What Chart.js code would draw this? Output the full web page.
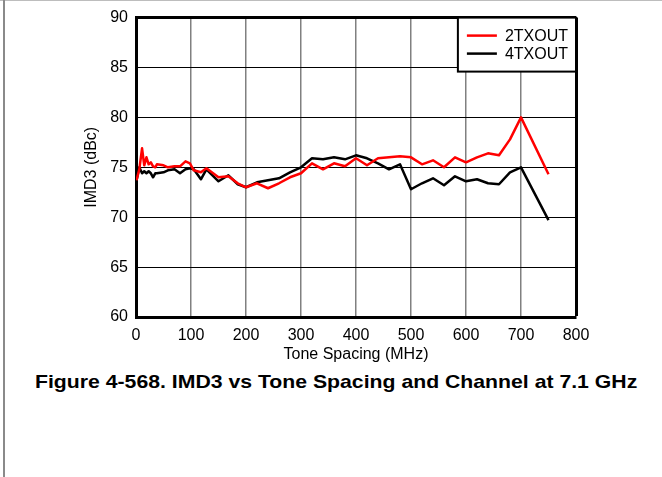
<!DOCTYPE html>
<html>
<head>
<meta charset="utf-8">
<script src="https://cdn.jsdelivr.net/npm/chart.js@4.4.1/dist/chart.umd.min.js"></script>
<style>
  html, body { margin: 0; padding: 0; background: #fff; }
  body { width: 662px; height: 477px; position: relative; overflow: hidden; }
  .frameTop { position: absolute; left: 0; top: 0; width: 662px; height: 1px; background: #bdbdbd; }
  .frameLeft { position: absolute; left: 3px; top: 0; width: 2px; height: 477px; background: #8a8a8a; }
  #wrap { position: absolute; left: 0; top: 0; width: 662px; height: 365px; }
  #caption {
    position: absolute; left: 35px; top: 371px; white-space: nowrap;
    font: bold 19px "Liberation Sans", Arial, sans-serif; color: #000;
    transform: scaleX(1.117); transform-origin: 0 0;
  }
</style>
</head>
<body>
<div class="frameTop"></div>
<div class="frameLeft"></div>
<div id="wrap"><canvas id="imdChart"></canvas></div>
<div id="caption">Figure 4-568. IMD3 vs Tone Spacing and Channel at 7.1 GHz</div>
<script>
// tone spacing in MHz
const toneSpacing = [1, 6, 11, 15, 19, 23, 27, 31, 35, 38, 50, 58, 70, 80, 90, 98, 105, 118, 128, 150,
  168, 185, 200, 220, 240, 260, 280, 300, 320, 340, 360, 380, 400, 420, 440, 460, 480, 500, 520, 540,
  560, 580, 600, 620, 640, 660, 680, 700, 750];

// IMD3 in dBc
const imd2tx = [73.7, 74.8, 76.9, 75.2, 76.0, 75.3, 75.5, 75.1, 75.0, 75.3, 75.2, 75.0, 75.1, 75.1, 75.6, 75.4, 74.7, 74.5, 74.9, 74.0,
  74.1, 73.4, 73.0, 73.4, 72.9, 73.4, 74.0, 74.4, 75.4, 74.8, 75.4, 75.1, 75.9, 75.2, 75.9, 76.0, 76.1, 76.0, 75.3, 75.7,
  75.0, 76.0, 75.5, 76.0, 76.4, 76.2, 77.8, 80.0, 74.3];

const imd4tx = [73.7, 75.0, 74.4, 74.6, 74.4, 74.6, 74.4, 74.0, 74.4, 74.4, 74.5, 74.7, 74.8, 74.4, 74.8, 74.9, 74.8, 73.8, 74.8, 73.6,
  74.2, 73.3, 73.0, 73.5, 73.7, 73.9, 74.5, 75.0, 75.9, 75.8, 76.0, 75.8, 76.2, 75.9, 75.4, 74.8, 75.3, 72.8, 73.4, 73.9,
  73.2, 74.1, 73.6, 73.8, 73.4, 73.3, 74.5, 75.0, 69.7];

const xTicks = [0, 100, 200, 300, 400, 500, 600, 700, 800];
const yTicks = [60, 65, 70, 75, 80, 85, 90];

const FONT = '"Liberation Sans", Arial, sans-serif';

// legend drawn inside the plot, top right, in a framed box
const boxLegend = {
  id: 'boxLegend',
  afterDraw(chart) {
    const { ctx, chartArea } = chart;
    const sets = chart.data.datasets;
    ctx.save();
    ctx.font = '16px ' + FONT;
    let textW = 0;
    sets.forEach(ds => { textW = Math.max(textW, ctx.measureText(ds.label).width); });
    const w = 9 + 30 + 8 + textW + 8;
    const h = 54;
    const left = chartArea.right - w;
    const top = chartArea.top;
    ctx.fillStyle = '#fff';
    ctx.fillRect(left, top, w, h);
    ctx.strokeStyle = '#000';
    ctx.lineWidth = 2;
    ctx.strokeRect(left, top, w, h);
    sets.forEach((ds, i) => {
      const y = top + 18 + i * 18;
      ctx.strokeStyle = ds.borderColor;
      ctx.lineWidth = 2.5;
      ctx.beginPath();
      ctx.moveTo(left + 9, y);
      ctx.lineTo(left + 39, y);
      ctx.stroke();
      ctx.fillStyle = '#000';
      ctx.textBaseline = 'middle';
      ctx.fillText(ds.label, left + 47, y + 1);
    });
    ctx.restore();
  }
};

const imdConfig = {
  type: 'line',
  data: {
    datasets: [
      {
        label: '2TXOUT',
        data: toneSpacing.map((x, i) => ({ x: x, y: imd2tx[i] })),
        borderColor: '#ff0000',
        backgroundColor: '#ff0000',
        borderWidth: 2.5
      },
      {
        label: '4TXOUT',
        data: toneSpacing.map((x, i) => ({ x: x, y: imd4tx[i] })),
        borderColor: '#000000',
        backgroundColor: '#000000',
        borderWidth: 2.5
      }
    ]
  },
  options: {
    responsive: true,
    maintainAspectRatio: false,
    animation: false,
    layout: { padding: { left: 76, top: 17, right: 86, bottom: 0 } },
    elements: { point: { radius: 0 }, line: { tension: 0, borderJoinStyle: 'round' } },
    scales: {
      x: {
        type: 'linear',
        min: 0,
        max: 800,
        afterBuildTicks: scale => { scale.ticks = xTicks.map(v => ({ value: v })); },
        afterFit: scale => { scale.height = 48; },
        ticks: { color: '#000', font: { size: 16, family: FONT }, padding: 9, maxRotation: 0 },
        grid: {
          drawTicks: false,
          color: c => (c.tick && c.tick.value === 800) ? '#000' : '#808080',
          lineWidth: c => (c.tick && c.tick.value === 800) ? 3 : 1.5
        },
        border: { color: '#000', width: 3 },
        title: {
          display: true,
          text: 'Tone Spacing (MHz)',
          color: '#000',
          font: { size: 16, family: FONT },
          padding: { top: 0, bottom: 1 }
        }
      },
      y: {
        min: 60,
        max: 90,
        afterBuildTicks: scale => { scale.ticks = yTicks.map(v => ({ value: v })); },
        afterFit: scale => { scale.width = 60; },
        ticks: { color: '#000', font: { size: 16, family: FONT }, padding: 8 },
        grid: {
          drawTicks: false,
          color: '#000',
          lineWidth: c => (c.tick && c.tick.value === 90) ? 3 : 1
        },
        border: { color: '#000', width: 3 },
        title: {
          display: true,
          text: 'IMD3 (dBc)',
          color: '#000',
          font: { size: 16, family: FONT },
          padding: { top: 6, bottom: 0 }
        }
      }
    },
    plugins: {
      legend: { display: false },
      tooltip: { enabled: false },
      title: { display: false }
    }
  },
  plugins: [boxLegend]
};

const imdChart = new Chart(document.getElementById('imdChart'), imdConfig);
</script>
</body>
</html>
